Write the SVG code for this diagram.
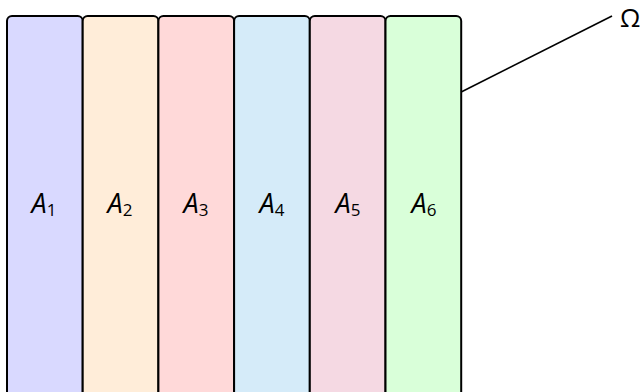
<svg xmlns="http://www.w3.org/2000/svg" width="644" height="392" viewBox="0 0 644 392">
  <style>
    .cell { stroke: #000; stroke-width: 2; }
    .lbl { font-family: "Open Sans", "DejaVu Sans", sans-serif; font-size: 27px; font-style: italic; fill: #000; text-anchor: middle; }
    .sub { font-style: normal; font-size: 17px; }
    .omega { font-family: "Open Sans", "DejaVu Sans", sans-serif; font-size: 26px; fill: #000; }
    .conn { stroke: #000; stroke-width: 1.6; fill: none; }
  </style>
  <g id="A1"><rect class="cell" x="7" y="16" width="75.7" height="382" rx="5" fill="#d9d9ff"/><text class="lbl" x="44" y="213">A<tspan class="sub" dy="3">1</tspan></text></g>
  <g id="A2"><rect class="cell" x="82.7" y="16" width="75.7" height="382" rx="5" fill="#ffedd9"/><text class="lbl" x="120" y="213">A<tspan class="sub" dy="3">2</tspan></text></g>
  <g id="A3"><rect class="cell" x="158.4" y="16" width="75.7" height="382" rx="5" fill="#ffd9d9"/><text class="lbl" x="196" y="213">A<tspan class="sub" dy="3">3</tspan></text></g>
  <g id="A4"><rect class="cell" x="234.1" y="16" width="75.7" height="382" rx="5" fill="#d5ebf9"/><text class="lbl" x="272" y="213">A<tspan class="sub" dy="3">4</tspan></text></g>
  <g id="A5"><rect class="cell" x="309.8" y="16" width="75.7" height="382" rx="5" fill="#f5d9e3"/><text class="lbl" x="348" y="213">A<tspan class="sub" dy="3">5</tspan></text></g>
  <g id="A6"><rect class="cell" x="385.5" y="16" width="75.7" height="382" rx="5" fill="#d9ffd9"/><text class="lbl" x="424" y="213">A<tspan class="sub" dy="3">6</tspan></text></g>
  <g id="connectors"><line class="conn" x1="461.2" y1="92" x2="612" y2="16"/></g>
  <g id="omega"><text class="omega" x="620" y="27">Ω</text></g>
</svg>
